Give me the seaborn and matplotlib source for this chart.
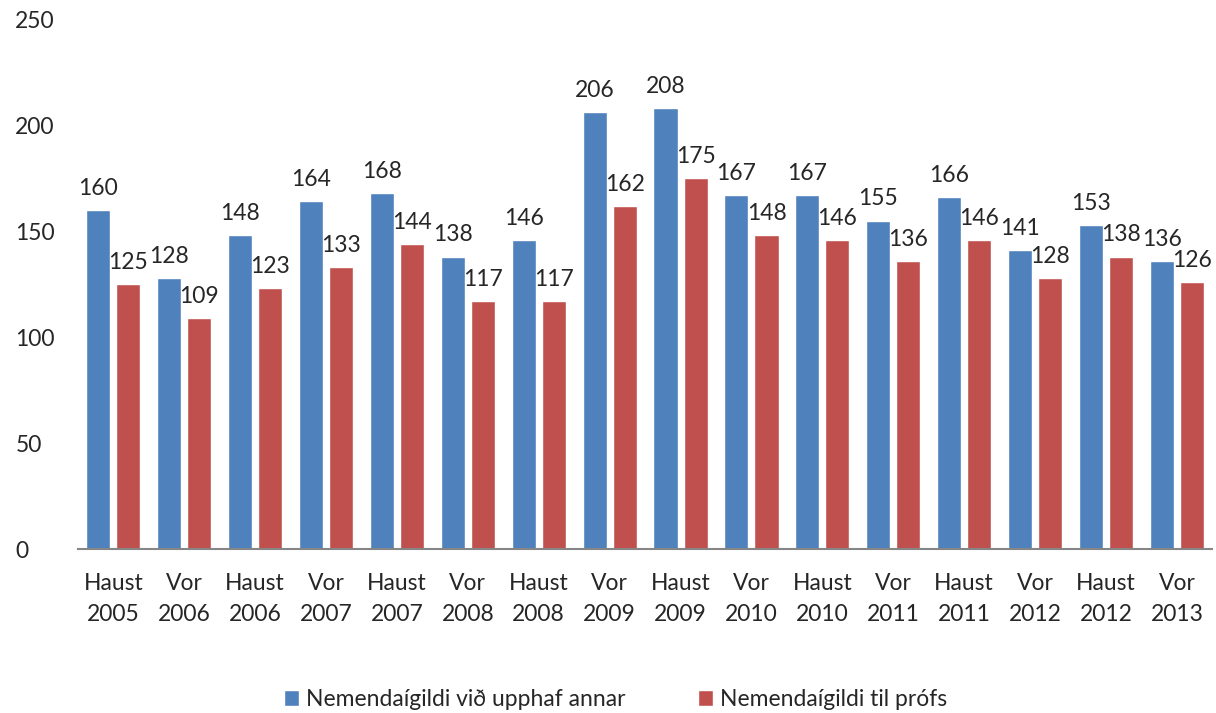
import pandas as pd
import matplotlib.pyplot as plt
import seaborn as sns

# ---------------- DATA ----------------
terms = ["Haust\n2005", "Vor\n2006", "Haust\n2006", "Vor\n2007", "Haust\n2007", "Vor\n2008",
         "Haust\n2008", "Vor\n2009", "Haust\n2009", "Vor\n2010", "Haust\n2010", "Vor\n2011",
         "Haust\n2011", "Vor\n2012", "Haust\n2012", "Vor\n2013"]
start_values = [160, 128, 148, 164, 168, 138, 146, 206, 208, 167, 167, 155, 166, 141, 153, 136]
exam_values = [125, 109, 123, 133, 144, 117, 117, 162, 175, 148, 146, 136, 146, 128, 138, 126]
series_names = ["Nemendaígildi við upphaf annar", "Nemendaígildi til prófs"]
colors = ["#4f81bd", "#c0504d"]

df = pd.DataFrame({
    "term": terms * 2,
    "value": start_values + exam_values,
    "series": [series_names[0]] * len(terms) + [series_names[1]] * len(terms),
})

# ---------------- PLOT ----------------
sns.set_style("white")
plt.rcParams["font.family"] = ["Lato", "DejaVu Sans"]

fig = plt.figure(figsize=(12.16, 7.13), dpi=100)
ax = fig.add_axes([0.064, 0.23, 0.933, 0.743])

sns.barplot(data=df, x="term", y="value", hue="series", palette=colors,
            width=0.85, gap=0.2, saturation=1, ax=ax)

for container in ax.containers:
    ax.bar_label(container, padding=8, fontsize=16.5)

ax.set_ylim(0, 250)
ax.set_yticks(range(0, 251, 50))
ax.set_xlim(-0.5, len(terms) - 0.5)
ax.set_xlabel("")
ax.set_ylabel("")
ax.tick_params(axis="both", labelsize=16.5, length=0)
ax.tick_params(axis="x", pad=17)
ax.tick_params(axis="y", pad=45)
for lab in ax.get_yticklabels():
    lab.set_horizontalalignment("left")
for lab in ax.get_xticklabels():
    lab.set_linespacing(1.6)

sns.despine(ax=ax, left=True)
ax.spines["bottom"].set_color("#868686")
ax.spines["bottom"].set_linewidth(1.5)

ax.legend(loc="center", bbox_to_anchor=(0.474, -0.284), ncol=2, frameon=False,
          fontsize=16.5, handlelength=0.65, handleheight=0.65, handletextpad=0.3,
          columnspacing=3.2)

plt.savefig("out.png", dpi=100)
